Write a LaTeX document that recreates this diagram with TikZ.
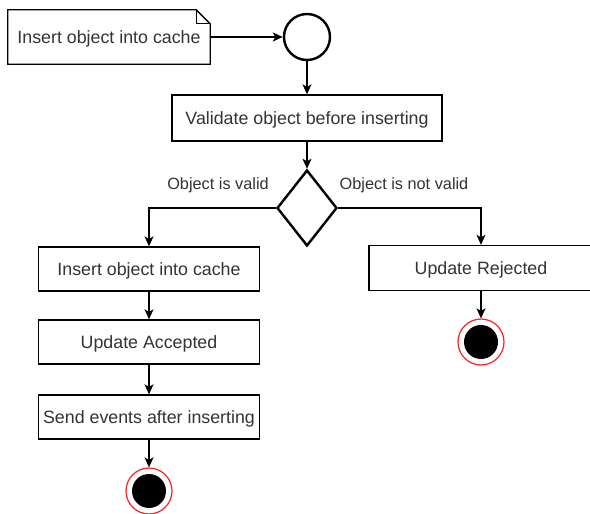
\documentclass[tikz,border=0pt]{standalone}
\usepackage{fontspec}
\setmainfont{Liberation Sans}
\usetikzlibrary{shapes.geometric,arrows.meta}
\definecolor{txt}{HTML}{333333}
\definecolor{endred}{HTML}{FF2020}
\tikzset{
  box/.style={draw, line width=1.3pt, fill=white, minimum width=221pt, minimum height=44pt,
    inner sep=0pt, text=txt, text depth=0pt, font=\fontsize{17.8}{20}\selectfont},
  lbl/.style={text=txt, font=\fontsize{16.3}{19}\selectfont, inner sep=0pt},
  flow/.style={draw, line width=1.3pt, -{Stealth[length=10pt,width=9pt,inset=2.5pt]}},
  endouter/.style={circle, draw=endred, line width=1.2pt, fill=white, minimum size=46pt, inner sep=0pt},
  enddot/.style={circle, fill=black, minimum size=34pt, inner sep=0pt},
}
\begin{document}
\begin{tikzpicture}[x=1pt,y=-1pt]
\useasboundingbox (0,0) rectangle (590,514);

% note with folded corner
\node (note) [minimum width=202pt, minimum height=54pt, inner sep=0pt, text=txt, text depth=0pt,
  font=\fontsize{17.8}{20}\selectfont] at (109,37) {Insert object into cache};
\draw[line width=1.3pt]
  (note.south west) -- (note.north west) -- ([xshift=-14pt]note.north east)
  -- ([yshift=-14pt]note.north east) -- (note.south east) -- cycle;
\draw[line width=1pt]
  ([xshift=-14pt]note.north east) -- ([xshift=-14pt,yshift=-14pt]note.north east)
  -- ([yshift=-14pt]note.north east);

% start node
\node (start) [circle, draw, line width=2.4pt, minimum size=46pt, inner sep=0pt] at (307,37) {};

% validation
\node (val) [box, minimum width=270pt, minimum height=46pt] at (307,118) {Validate object before inserting};
\node (dec) [diamond, draw, line width=2.4pt, minimum width=60pt, minimum height=76pt, inner sep=0pt] at (307,208) {};

\node (lv) [lbl] at (218,185) {Object is valid};
\node (lnv) [lbl] at (404,185) {Object is not valid};

% accepted branch
\node (ins) [box] at (149,269) {Insert object into cache};
\node (acc) [box] at (149,342) {Update Accepted};
\node (send) [box] at (149,417) {Send events after inserting};
\node (end1) [endouter] at (149,491) {};
\node (dot1) [enddot] at (end1.center) {};

% rejected branch
\node (rej) [box, minimum width=224pt, minimum height=45pt] at (481,268) {Update Rejected};
\node (end2) [endouter] at (481,342) {};
\node (dot2) [enddot] at (end2.center) {};

% connectors
\draw[flow] (note.east) -- (start.west);
\draw[flow] (start.south) -- (val.north);
\draw[flow] (val.south) -- (dec.north);
\draw[flow] (dec.west) -| (ins.north);
\draw[flow] (dec.east) -| (rej.north);
\draw[flow] (ins.south) -- (acc.north);
\draw[flow] (acc.south) -- (send.north);
\draw[flow] (send.south) -- (end1.north);
\draw[flow] (rej.south) -- (end2.north);
\end{tikzpicture}
\end{document}
